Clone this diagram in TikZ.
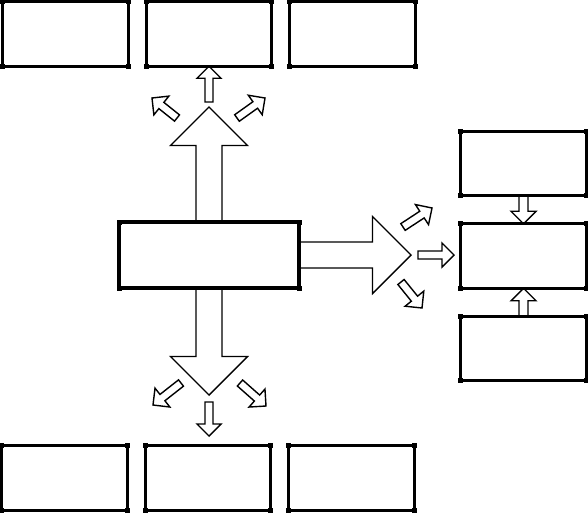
\documentclass[tikz,border=0pt]{standalone}
\usepackage{tikz}
\usetikzlibrary{positioning,calc}
\tikzset{
  panel/.style={draw=black, line width=3.2pt, minimum width=125.5pt, minimum height=64.5pt, inner sep=0pt, outer sep=0pt},
  hub/.style={panel, minimum width=180pt, minimum height=66pt},
  fat/.style={draw=black, line width=1.4pt, fill=white, line join=miter},
}
% block arrow: #1 tail, #2 tip, #3 half shaft, #4 half head (= head length)
\newcommand{\blockarrow}[4]{%
  \draw[fat] ($(#1)!#3!90:(#2)$) -- ($($(#2)!#4!(#1)$)!#3!90:(#2)$)
    -- ($($(#2)!#4!(#1)$)!#4!90:(#2)$) -- (#2)
    -- ($($(#2)!#4!(#1)$)!#4!-90:(#2)$) -- ($($(#2)!#4!(#1)$)!#3!-90:(#2)$)
    -- ($(#1)!#3!-90:(#2)$) -- cycle;}

\begin{document}
\begin{tikzpicture}[x=1pt, y=-1pt]
    \useasboundingbox (0,0) rectangle (588,512);
    % boxes
    \node[hub] (hub) at (209,255) {};
    \node[panel] (top2) at (209,34) {};
    \node[panel, left=18pt of top2] (top1) {};
    \node[panel, right=18pt of top2] (top3) {};
    \node[panel] (bot2) at (208,478) {};
    \node[panel, left=18pt of bot2] (bot1) {};
    \node[panel, right=18pt of bot2] (bot3) {};
    \node[panel] (rb) at (523.5,256) {};
    \node[panel, above=28pt of rb] (ra) {};
    \node[panel, below=28pt of rb] (rc) {};
    % free arrow ends
    \coordinate (upTip) at (209,107);
    \coordinate (downTip) at (209,395);
    \coordinate (rightTip) at (411,255);
    \coordinate (ut) at (209,102);
    \coordinate (ult) at (177,118); \coordinate (ulh) at (152,98);
    \coordinate (urt) at (237,118); \coordinate (urh) at (265,98);
    \coordinate (dt) at (209,402);  \coordinate (dh) at (209,436);
    \coordinate (dlt) at (181,383); \coordinate (dlh) at (153,405);
    \coordinate (drt) at (240,383); \coordinate (drh) at (266,406);
    \coordinate (rt) at (418,255);  \coordinate (rh) at (454,255);
    \coordinate (rut) at (403,227); \coordinate (ruh) at (432,208);
    \coordinate (rdt) at (401,282); \coordinate (rdh) at (422,308);
    % big arrows
    \blockarrow{hub.north}{upTip}{13pt}{38.5pt}
    \blockarrow{hub.south}{downTip}{13pt}{38.5pt}
    \blockarrow{hub.east}{rightTip}{13pt}{38.5pt}
    % small arrows
    \blockarrow{ut}{top2.south}{4pt}{12pt}
    \blockarrow{ult}{ulh}{4pt}{12pt}
    \blockarrow{urt}{urh}{4pt}{12pt}
    \blockarrow{dt}{dh}{4pt}{12pt}
    \blockarrow{dlt}{dlh}{4pt}{12pt}
    \blockarrow{drt}{drh}{4pt}{12pt}
    \blockarrow{rt}{rh}{4pt}{12pt}
    \blockarrow{rut}{ruh}{4pt}{12pt}
    \blockarrow{rdt}{rdh}{4pt}{12pt}
    \blockarrow{ra.south}{rb.north}{4.5pt}{12.5pt}
    \blockarrow{rc.north}{rb.south}{4.5pt}{12.5pt}
    % redraw box borders over arrow tails, with corner dots
    \foreach \b in {hub,top1,top2,top3,bot1,bot2,bot3,ra,rb,rc} {
      \draw[line width=3.2pt] (\b.north west) rectangle (\b.south east);
      \foreach \c in {north west,north east,south west,south east}
        \fill ($(\b.\c)+(-2.5,-2.5)$) rectangle +(5,5);
    }
  \end{tikzpicture}
\end{document}
